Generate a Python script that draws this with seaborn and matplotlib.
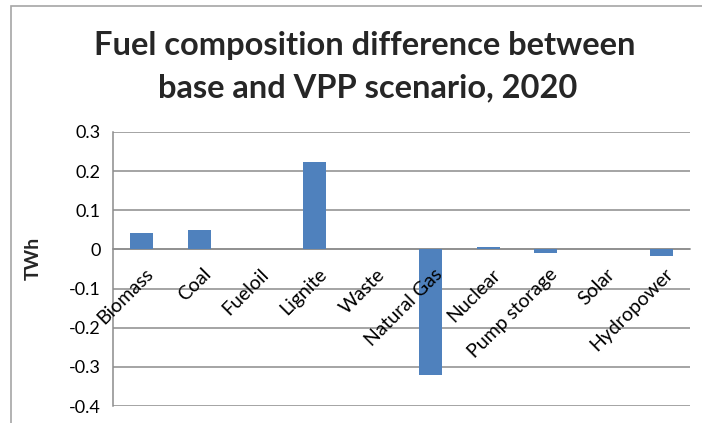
import numpy as np
import pandas as pd
import seaborn as sns
import matplotlib
matplotlib.use("Agg")
import matplotlib.pyplot as plt
from matplotlib.patches import Rectangle
import matplotlib.transforms as mtransforms

categories = ["Biomass", "Coal", "Fueloil", "Lignite", "Waste", "Natural Gas",
              "Nuclear", "Pump storage", "Solar", "Hydropower"]
values = [0.043, 0.050, 0.0, 0.223, 0.0, -0.320, 0.007, -0.009, 0.0, -0.016]
yticks = [-0.4, -0.3, -0.2, -0.1, 0, 0.1, 0.2, 0.3]
ytick_labels = ["-0.4", "-0.3", "-0.2", "-0.1", "0", "0.1", "0.2", "0.3"]
title_lines = ["Fuel composition difference between", "base and VPP scenario, 2020"]
ylabel = "TWh"

sns.set_style("white")
plt.rcParams['font.family'] = ['Lato', 'DejaVu Sans']

df = pd.DataFrame({"category": categories, "value": values})

fig = plt.figure(figsize=(7.02, 4.23), dpi=100)
ax = fig.add_axes([113/702, 17/423, 577/702, 274/423])

sns.barplot(data=df, x="category", y="value", color="#4F81BD", width=0.4,
            saturation=1, ax=ax, zorder=3, linewidth=0, edgecolor="none")

ax.set_xlim(-0.5, len(categories) - 0.5)
ax.set_ylim(-0.4, 0.3)
ax.set_yticks(yticks)
ax.set_yticklabels(ytick_labels, fontsize=13)
ax.yaxis.grid(True, color="#8c8c8c", linewidth=1.1, zorder=0)
ax.set_axisbelow(True)

for s in ["top", "right"]:
    ax.spines[s].set_visible(False)
ax.spines["left"].set_color("#8c8c8c")
ax.spines["left"].set_linewidth(1.1)
ax.spines["bottom"].set_position(("data", 0))
ax.spines["bottom"].set_color("#8c8c8c")
ax.spines["bottom"].set_linewidth(1.1)
ax.spines["bottom"].set_zorder(2.5)

ax.tick_params(axis="y", length=5, width=1.1, color="#8c8c8c", pad=4, labelcolor="black")
ax.set_xticks(range(len(categories)))
ax.set_xticklabels([])
ax.set_xticks(np.arange(0.5, len(categories), 1.0), minor=True)
ax.tick_params(axis="x", which="major", length=0)
ax.tick_params(axis="x", which="minor", length=5, width=1.1, color="#8c8c8c", direction="out")
ax.set_xlabel("")
ax.set_ylabel("")

offset = mtransforms.ScaledTranslation(3/100, -16/100, fig.dpi_scale_trans)
for i, c in enumerate(categories):
    ax.text(i, 0, c, rotation=45, ha="right", va="top", rotation_mode="anchor",
            fontsize=14, color="black", transform=ax.transData + offset, zorder=5)

fig.text(33/702, 1 - 258/423, ylabel, rotation=90, ha="center", va="center",
         fontsize=14, fontweight="bold")

fig.text(365/702, 1 - 45/423, title_lines[0], ha="center", va="center",
         fontsize=23.5, fontweight="bold")
fig.text(368/702, 1 - 88/423, title_lines[1], ha="center", va="center",
         fontsize=23.5, fontweight="bold")

fig.patches.append(Rectangle((11/702, -0.1), 1.2, 1 - 6/423 + 0.1, transform=fig.transFigure,
                             fill=False, edgecolor="#a6a6a6", linewidth=1.2))

fig.savefig("out.png", dpi=100)
